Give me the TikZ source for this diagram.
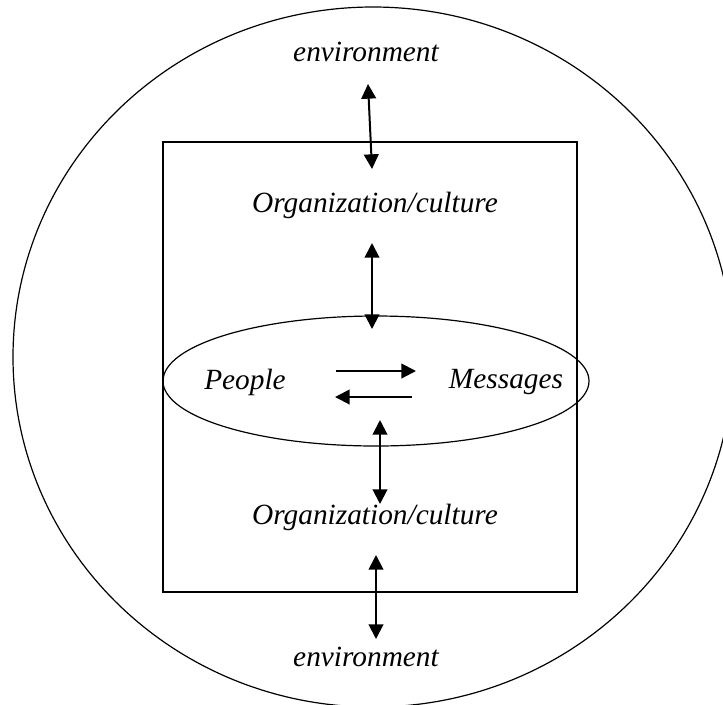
\documentclass[tikz,border=0pt]{standalone}
\usepackage{fontspec}
\setmainfont{Liberation Serif}
\usetikzlibrary{arrows.meta}
\begin{document}
\begin{tikzpicture}[x=0.75pt,y=-0.75pt,>={Triangle[length=11pt,width=11pt]},
   lbl/.style={font=\itshape\fontsize{22}{26}\selectfont,inner sep=0pt},
   flow/.style={line width=1.5pt}]
   \useasboundingbox (0,0) rectangle (723,704);
   \clip (0,0) rectangle (723,704);
   \draw [line width=0.9pt] (373,357) ellipse [x radius=360, y radius=350];
   \draw [line width=0.9pt] (163,142) rectangle (577,592);
   \draw [line width=0.9pt] (376,381) ellipse [x radius=213, y radius=65];
   \node [lbl] (envtop) at (366,52) {environment};
   \node [lbl] (orgtop) at (375,205) {Organization/culture};
   \node [lbl] (people) at (245,382) {People};
   \node [lbl] (msg) at (506,382) {Messages};
   \node [lbl] (orgbot) at (375,517) {Organization/culture};
   \node [lbl] (envbot) at (366,657) {environment};
   \coordinate (a1t) at (368,84);  \coordinate (a1b) at (372,169);
   \coordinate (a2t) at (372,243); \coordinate (a2b) at (372,329);
   \coordinate (a3t) at (380,420); \coordinate (a3b) at (380,504);
   \coordinate (a4t) at (376,555); \coordinate (a4b) at (376,639);
   \coordinate (rl) at (336,371);  \coordinate (rr) at (416,371);
   \coordinate (ll) at (335,397);  \coordinate (lr) at (412,397);
   \draw [flow,<->] (a1t)--(a1b);
   \draw [flow,<->] (a2t)--(a2b);
   \draw [flow,<->] (a3t)--(a3b);
   \draw [flow,<->] (a4t)--(a4b);
   \draw [flow,->] (rl)--(rr);
   \draw [flow,->] (lr)--(ll);
\end{tikzpicture}
\end{document}
